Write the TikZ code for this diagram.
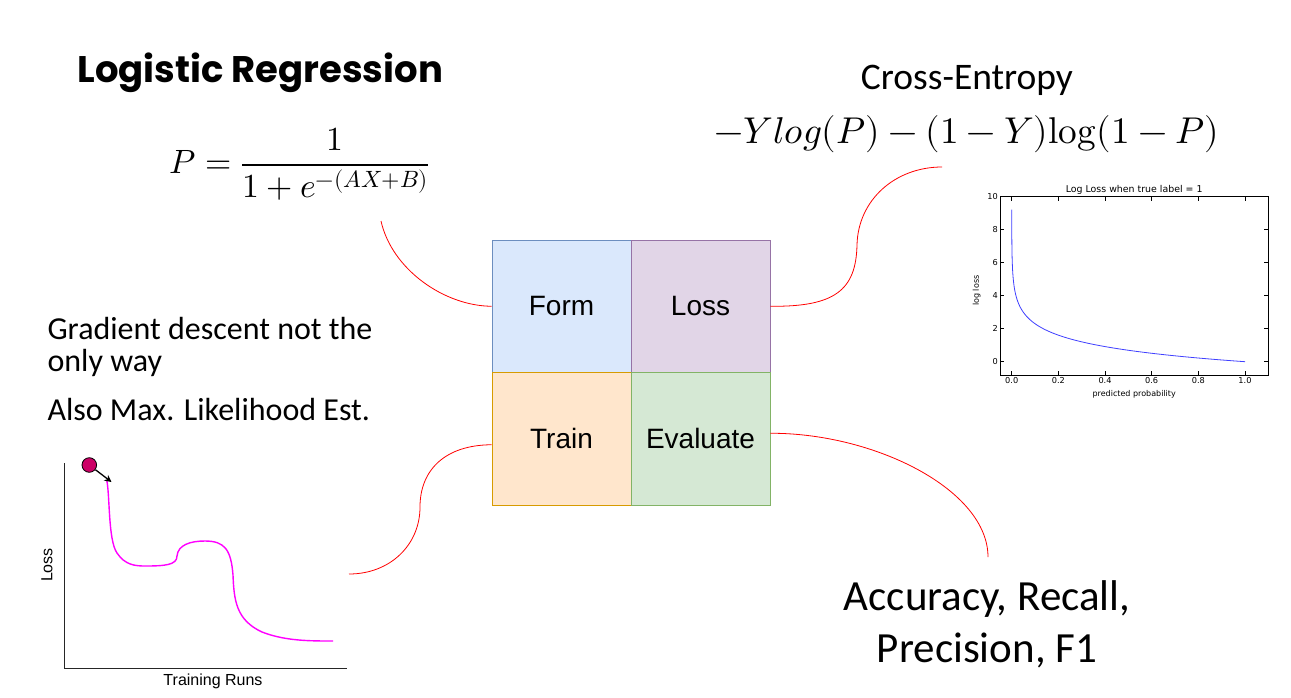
\documentclass[tikz,border=0pt]{standalone}
\usepackage{fontspec}
\usepackage{unicode-math}
\setmainfont{Carlito}
\setmathfont{Latin Modern Math}
\newfontfamily\popp{Poppins}
\newfontfamily\arialf{Liberation Sans}
\newfontfamily\dejavu{DejaVu Sans}
\usetikzlibrary{arrows.meta}
\definecolor{formfill}{HTML}{DAE8FC}\definecolor{formdraw}{HTML}{6C8EBF}
\definecolor{lossfill}{HTML}{E1D5E7}\definecolor{lossdraw}{HTML}{9673A6}
\definecolor{trainfill}{HTML}{FFE6CC}\definecolor{traindraw}{HTML}{D79B00}
\definecolor{evalfill}{HTML}{D5E8D4}\definecolor{evaldraw}{HTML}{82B366}
\definecolor{curvemag}{HTML}{FF00FF}
\definecolor{ballcol}{HTML}{CC0066}
\definecolor{plotblue}{HTML}{4040FF}
\tikzset{
  cell/.style={rectangle, minimum width=139pt, minimum height=132.5pt, inner sep=0pt, line width=0.9pt, font=\arialf\fontsize{28}{32}\selectfont},
  conn/.style={red, line width=0.8pt},
  tick/.style={line width=0.5pt},
  ticklab/.style={font=\dejavu\fontsize{8.2}{9}\selectfont, inner sep=2pt},
}
\begin{document}
\begin{tikzpicture}[x=1pt,y=-1pt]
\useasboundingbox (0,0) rectangle (1291,697);
\fill[white] (0,0) rectangle (1291,697);

% titles and texts
\node[anchor=west, font=\popp\bfseries\fontsize{37}{42}\selectfont] (title) at (74,73) {Logistic Regression};
\node[font=\fontsize{33.7}{40}\selectfont, anchor=west] (pform) at (166,164) {$\displaystyle P=\frac{1}{1+e^{-(AX+B)}}$};
\node[font=\fontsize{37.5}{44}\selectfont] (ce) at (967,80) {Cross-Entropy};
\node[font=\fontsize{37.3}{42}\selectfont] (ceq) at (967,134) {$-Ylog(P)-(1-Y)\symup{log}(1-P)$};
\node[anchor=west, align=left, font=\fontsize{32}{32}\selectfont] (gd) at (44,347) {Gradient descent not the\\only way};
\node[anchor=west, font=\fontsize{32}{32}\selectfont] (mle) at (44,410) {Also Max. Likelihood Est.};
\node[align=center, font=\fontsize{43}{52}\selectfont] (acc) at (987,624) {Accuracy, Recall,\\Precision, F1};

% central grid
\node[cell, fill=formfill, draw=formdraw] (Form) at (561.5,306.25) {Form};
\node[cell, fill=lossfill, draw=lossdraw] (Loss) at (700.5,306.25) {Loss};
\node[cell, fill=trainfill, draw=traindraw] (Train) at (561.5,438.75) {Train};
\node[cell, fill=evalfill, draw=evaldraw] (Evaluate) at (700.5,438.75) {Evaluate};

% connectors
\coordinate (fc) at (381,221);
\coordinate (lc) at (942,167);
\coordinate (tc) at (349,574);
\coordinate (ec) at (988,557);
\draw[conn] (Form.west) .. controls (445,306) and (392,270) .. (fc);
\draw[conn] (Loss.east) .. controls (835,307) and (856,290) .. (857,245) .. controls (858,200) and (895,167) .. (lc);
\draw[conn] ([yshift=-6pt]Train.west) .. controls (445,445) and (420,470) .. (420,507) .. controls (420,545) and (390,574) .. (tc);
\draw[conn] ([yshift=5.5pt]Evaluate.east) .. controls (875,433) and (988,490) .. (ec);

% log loss plot
\begin{scope}[shift={(1011.7,361.7)}, x=233.3pt, y=16.5pt]
  \draw[line width=0.7pt, fill=white] (-0.05,-0.8) rectangle (1.1,10);
  \foreach \t in {0.0,0.2,0.4,0.6,0.8,1.0}{
    \draw[tick] (\t,-0.8) -- ++(0pt,4pt);
    \draw[tick] (\t,10) -- ++(0pt,-4pt);
    \node[ticklab, anchor=north] at (\t,-0.8) {\t};
  }
  \foreach \t in {0,2,4,6,8,10}{
    \draw[tick] (-0.05,\t) -- ++(4pt,0pt);
    \draw[tick] (1.1,\t) -- ++(-4pt,0pt);
    \node[ticklab, anchor=east] at (-0.05,\t) {\t};
  }
  \draw[plotblue, line width=0.8pt] plot[domain=-9.21:0, samples=250, smooth] ({exp(\x)}, {-\x});
  \node[font=\dejavu\fontsize{9.4}{11}\selectfont, anchor=south, inner sep=2pt] at (0.525,10) {Log Loss when true label = 1};
  \node[font=\dejavu\fontsize{8}{9}\selectfont, rotate=90] at (-0.15,4.3) {log loss};
  \node[font=\dejavu\fontsize{8}{9}\selectfont] at (0.525,-1.95) {predicted probability};
\end{scope}

% gradient descent plot
\draw[line width=1.3pt, black!85] (64.3,463) -- (64.3,668.5) -- (347,668.5);
\node[font=\arialf\fontsize{16}{18}\selectfont, rotate=90] (lossax) at (47,565) {Loss};
\node[font=\arialf\fontsize{16}{18}\selectfont] (runs) at (213,681) {Training Runs};
\draw[curvemag, line width=1.4pt] (106.7,480) .. controls (110,495) and (108,540) .. (117,553)
  .. controls (125,565) and (135,566) .. (145,566)
  .. controls (165,566) and (177,565) .. (177,556)
  .. controls (178,545) and (190,541) .. (205,541)
  .. controls (225,541) and (231,550) .. (233,575)
  .. controls (234,600) and (236,620) .. (262,632)
  .. controls (285,641) and (310,641) .. (333,641);
\node[circle, fill=ballcol, draw=black, line width=0.8pt, minimum size=14.6pt, inner sep=0pt] (ball) at (89.3,465) {};
\coordinate (arrowend) at (111.5,482);
\draw[line width=1.3pt, -{Stealth[length=7pt,width=7pt]}] (ball) -- (arrowend);
\end{tikzpicture}
\end{document}
